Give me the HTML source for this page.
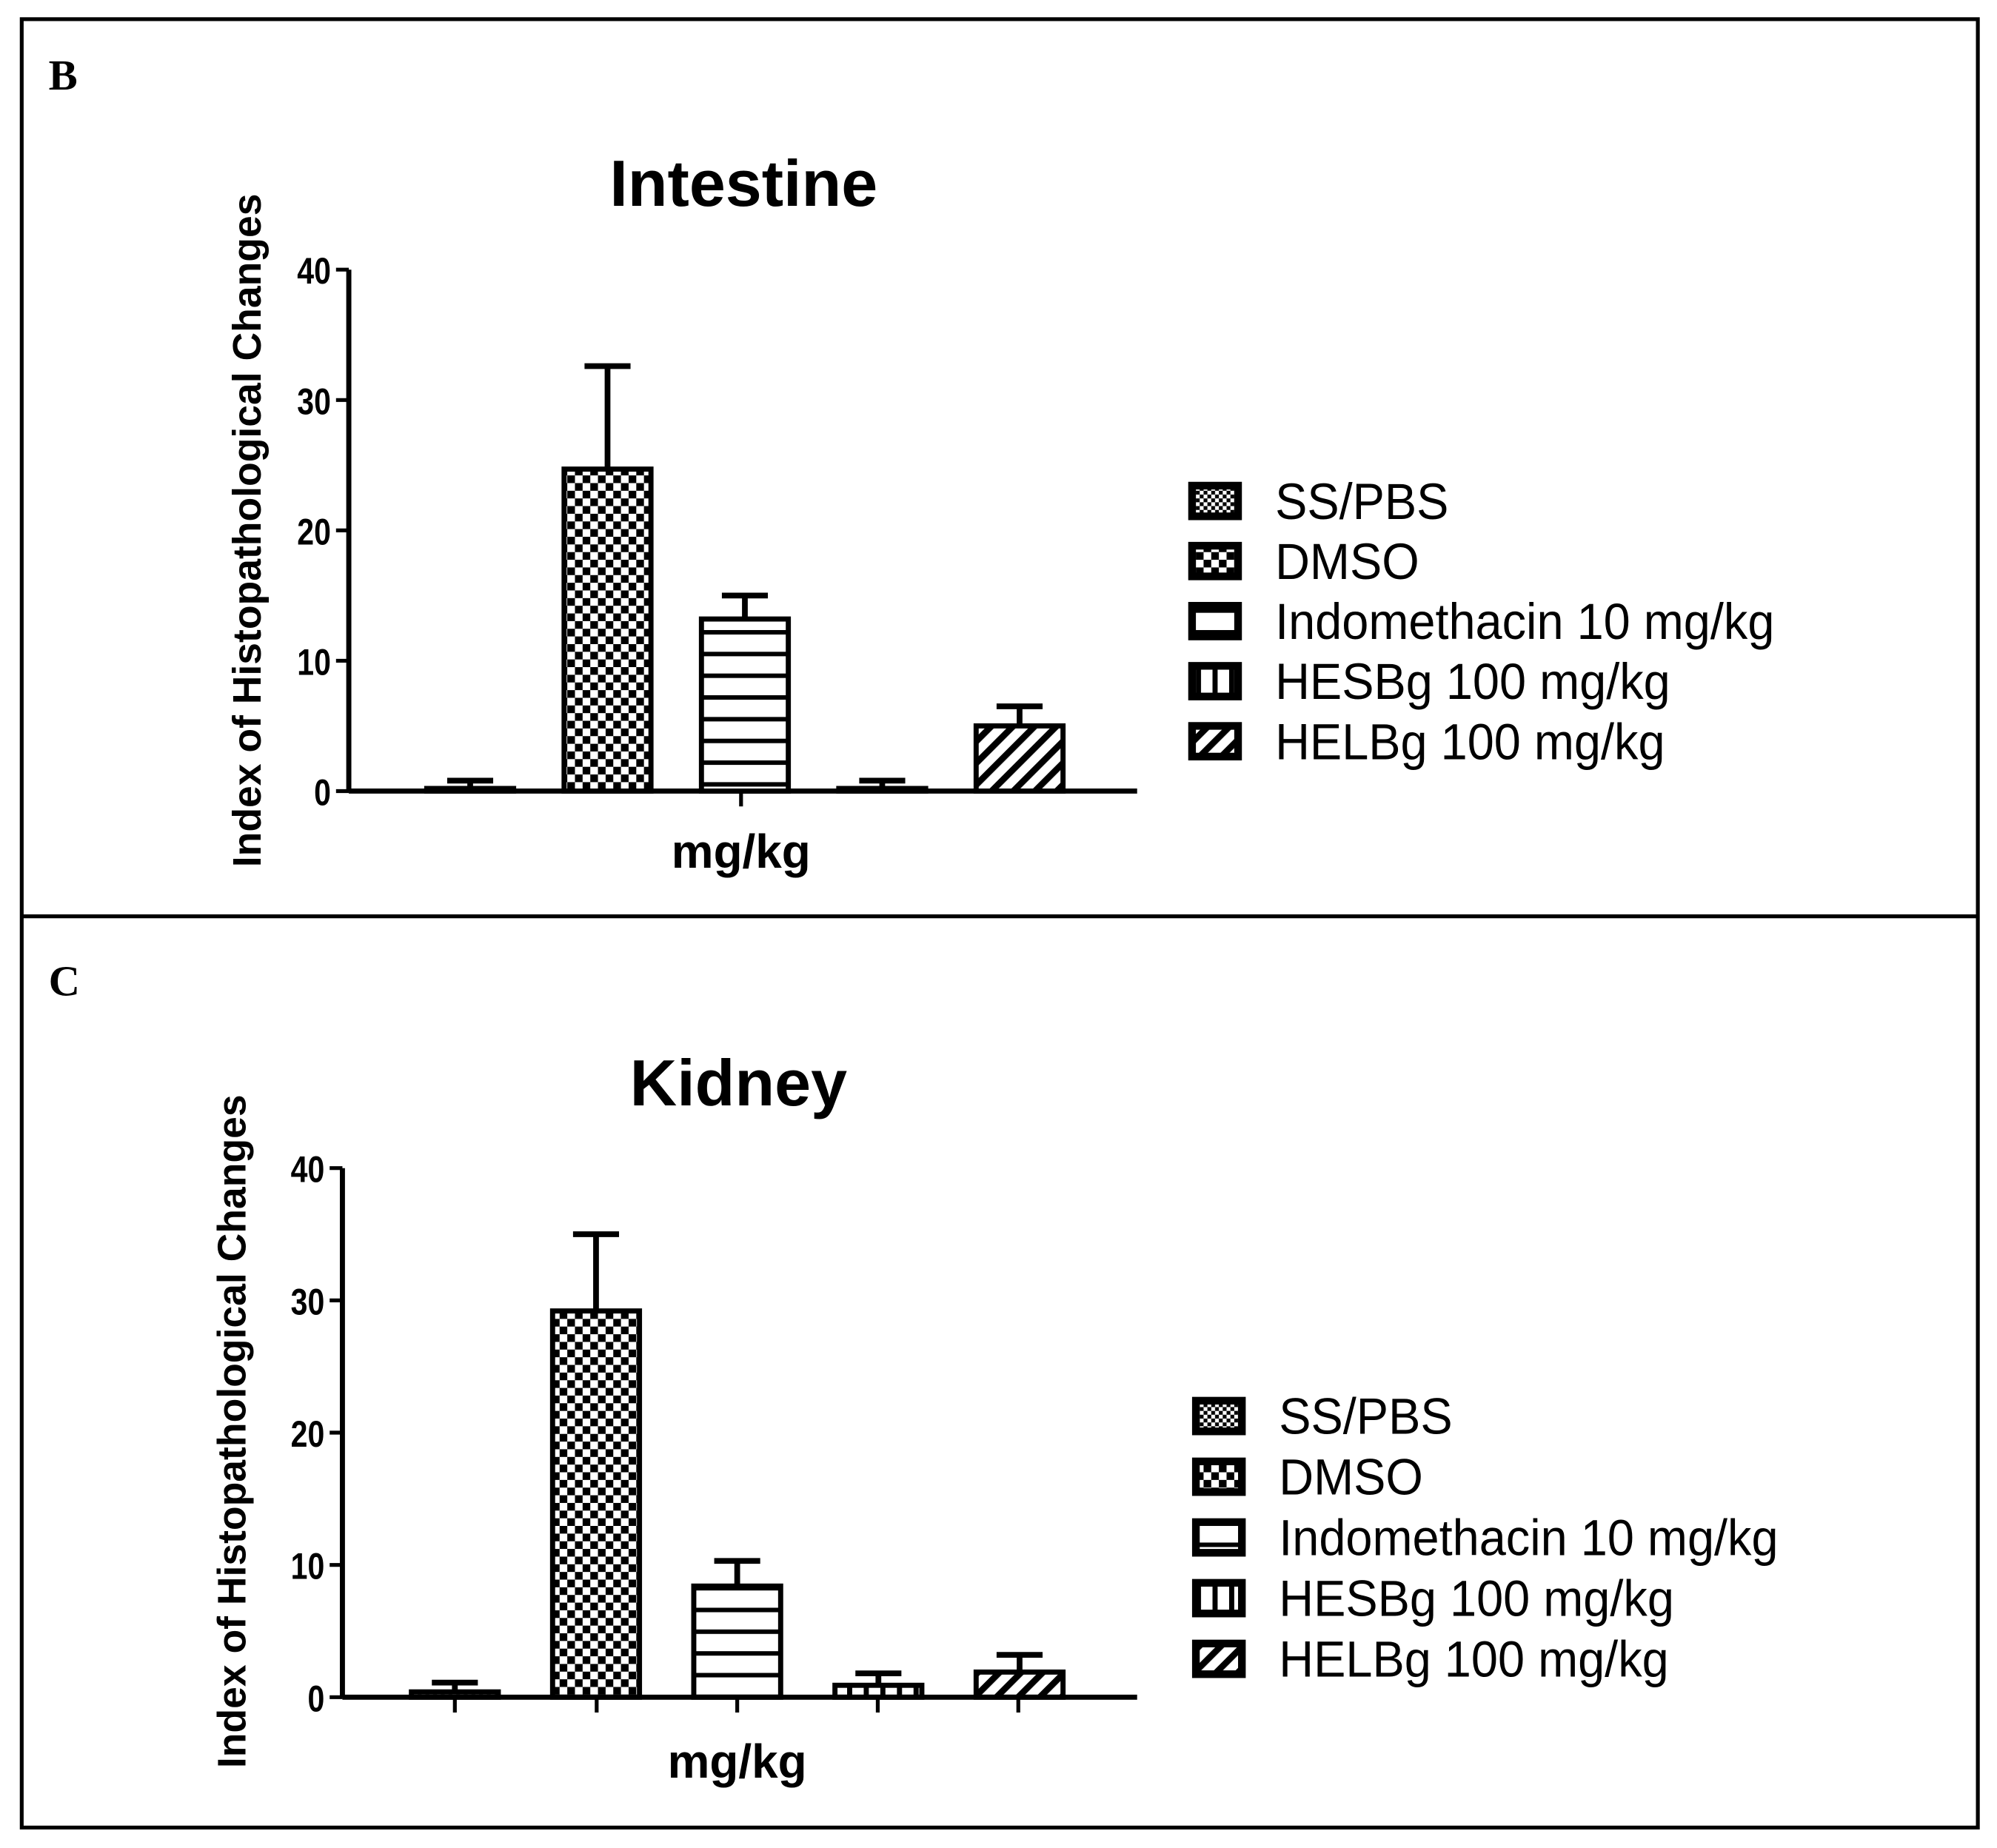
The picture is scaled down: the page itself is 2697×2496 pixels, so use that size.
<!DOCTYPE html>
<html><head><meta charset="utf-8">
<style>
html,body{margin:0;padding:0;background:#fff;}
svg{display:block;}
text{font-family:"Liberation Sans",sans-serif;fill:#000;}
.tick{font-size:29px;font-weight:bold;}
.ttl{font-size:51px;font-weight:bold;}
.xt{font-size:37px;font-weight:bold;}
.axt{font-size:31px;font-weight:bold;}
.leg{font-size:40px;}
.lab{font-family:"Liberation Serif",serif;font-size:34px;font-weight:bold;}
</style></head>
<body>
<svg id="fig" width="2697" height="2496" viewBox="0 0 1563 1446" preserveAspectRatio="none" xmlns="http://www.w3.org/2000/svg">
<defs>
<pattern id="p-check" width="12" height="12" patternUnits="userSpaceOnUse"><rect width="12" height="12" fill="#fff"/><rect width="6" height="6" fill="#000"/><rect x="6" y="6" width="6" height="6" fill="#000"/></pattern>
<pattern id="p-fine" width="6" height="6" patternUnits="userSpaceOnUse"><rect width="6" height="6" fill="#fff"/><rect width="3" height="3" fill="#000"/><rect x="3" y="3" width="3" height="3" fill="#000"/></pattern>
<pattern id="p-horiz" width="10" height="17" patternUnits="userSpaceOnUse"><rect width="10" height="17" fill="#fff"/><rect y="0" width="10" height="3.5" fill="#000"/></pattern>
<pattern id="p-vert" width="13" height="10" patternUnits="userSpaceOnUse"><rect width="13" height="10" fill="#fff"/><rect width="4" height="10" fill="#000"/></pattern>
<pattern id="p-diag" width="12" height="12" patternUnits="userSpaceOnUse" patternTransform="rotate(45)"><rect width="12" height="12" fill="#fff"/><rect width="5" height="12" fill="#000"/></pattern>
</defs>
<rect x="17" y="15" width="1531" height="1415" fill="none" stroke="#000" stroke-width="3"/>
<line x1="17" y1="717" x2="1548" y2="717" stroke="#000" stroke-width="3"/>
<g id="chartB"></g>
<g id="chartC"></g>
</svg>
<script>
const categories = ["SS/PBS","DMSO","Indomethacin 10 mg/kg","HESBg 100 mg/kg","HELBg 100 mg/kg"];
const intestineValues = [0.2, 24.7, 13.2, 0.2, 5.0];
const intestineErrors = [0.8, 32.6, 15.0, 0.8, 6.5];
const kidneyValues = [0.4, 29.2, 8.4, 0.9, 1.9];
const kidneyErrors = [1.1, 35.0, 10.3, 1.8, 3.2];
const yTicks = [0, 10, 20, 30, 40];
const fills = ["url(#p-fine)","url(#p-check)","url(#p-horiz)","url(#p-vert)","url(#p-diag)"];
const NS = "http://www.w3.org/2000/svg";
function mk(parent, tag, attrs, txt){
  const e = document.createElementNS(NS, tag);
  for (const k in attrs) e.setAttribute(k, attrs[k]);
  if (txt !== undefined) e.textContent = txt;
  parent.appendChild(e);
  return e;
}
function draw(g, cfg, vals, errs){
  const y = v => cfg.y0 - (v/40)*(cfg.y0-cfg.y40);
  const bw = 68;
  const x = i => cfg.bx0 + i*cfg.bstep;
  const lab = mk(g,"text",{x:cfg.labX,y:cfg.labY,class:"lab"},cfg.label);
  
  
  const t = mk(g,"text",{x:cfg.titleX,y:cfg.titleY,class:"ttl","text-anchor":"middle"},cfg.title);
  
  
  vals.forEach((v,i)=>{
    const cx = x(i);
    const top = y(errs[i]);
    const el = mk(g,"path",{d:`M${cx} ${y(v)} V${top} M${cx-18} ${top} H${cx+18}`,stroke:"#000","stroke-width":4.5,fill:"none"});
    
    
    const b = mk(g,"rect",{x:cx-bw/2,y:y(v),width:bw,height:Math.max(cfg.y0-y(v),0.5),fill:fills[i],stroke:"#000","stroke-width":4});
    
    
  });
  const ax = mk(g,"path",{d:`M${cfg.ax} ${cfg.y40} V${cfg.y0} M${cfg.ax} ${cfg.y0} H890`,stroke:"#000","stroke-width":4,fill:"none"});
  
  
  cfg.xticks.forEach(tx=>{
    const tk = mk(g,"line",{x1:tx,y1:cfg.y0,x2:tx,y2:cfg.y0+12,stroke:"#000","stroke-width":3});
    
    
  });
  yTicks.forEach(v=>{
    const tk = mk(g,"line",{x1:cfg.ax-10,y1:y(v),x2:cfg.ax,y2:y(v),stroke:"#000","stroke-width":3});
    
    
    const tl = mk(g,"text",{x:0,y:0,class:"tick","text-anchor":"end",transform:`translate(${cfg.ax-14},${y(v)+11}) scale(0.82,1)`},String(v));
    
    
  });
  const yt = mk(g,"text",{x:0,y:0,class:"axt","text-anchor":"middle",transform:`translate(${cfg.ytX},${cfg.ytY}) rotate(-90)`},"Index of Histopathological Changes");
  
  
  const xt = mk(g,"text",{x:cfg.xtX,y:cfg.xtY,class:"xt","text-anchor":"middle"},"mg/kg");
  
  
  categories.forEach((c,i)=>{
    const ly = cfg.legY + i*cfg.legStep;
    const lg = mk(g,"g",{});
    
    
    mk(lg,"rect",{x:cfg.legX+3,y:ly-12,width:36,height:24,fill:fills[i],stroke:"#000","stroke-width":6});
    mk(lg,"text",{x:0,y:0,class:"leg",transform:`translate(${cfg.legX+68},${ly+14}) scale(0.94,1)`},c);
  });
}
draw(document.getElementById("chartB"),{label:"B",labX:38,labY:70,title:"Intestine",titleX:582,titleY:161,
  y0:619,y40:211,ax:273,bx0:368,bstep:107.5,xticks:[580],ytX:204,ytY:415,xtX:580,xtY:679,legX:930,legY:392,legStep:47},intestineValues,intestineErrors);
draw(document.getElementById("chartC"),{label:"C",labX:38,labY:779,title:"Kidney",titleX:578,titleY:865,
  y0:1328,y40:914,ax:268,bx0:356,bstep:110.5,xticks:[356,467,577,687,797],ytX:192,ytY:1120,xtX:577,xtY:1391,legX:933,legY:1108,legStep:47.5},kidneyValues,kidneyErrors);
</script>
</body></html>
